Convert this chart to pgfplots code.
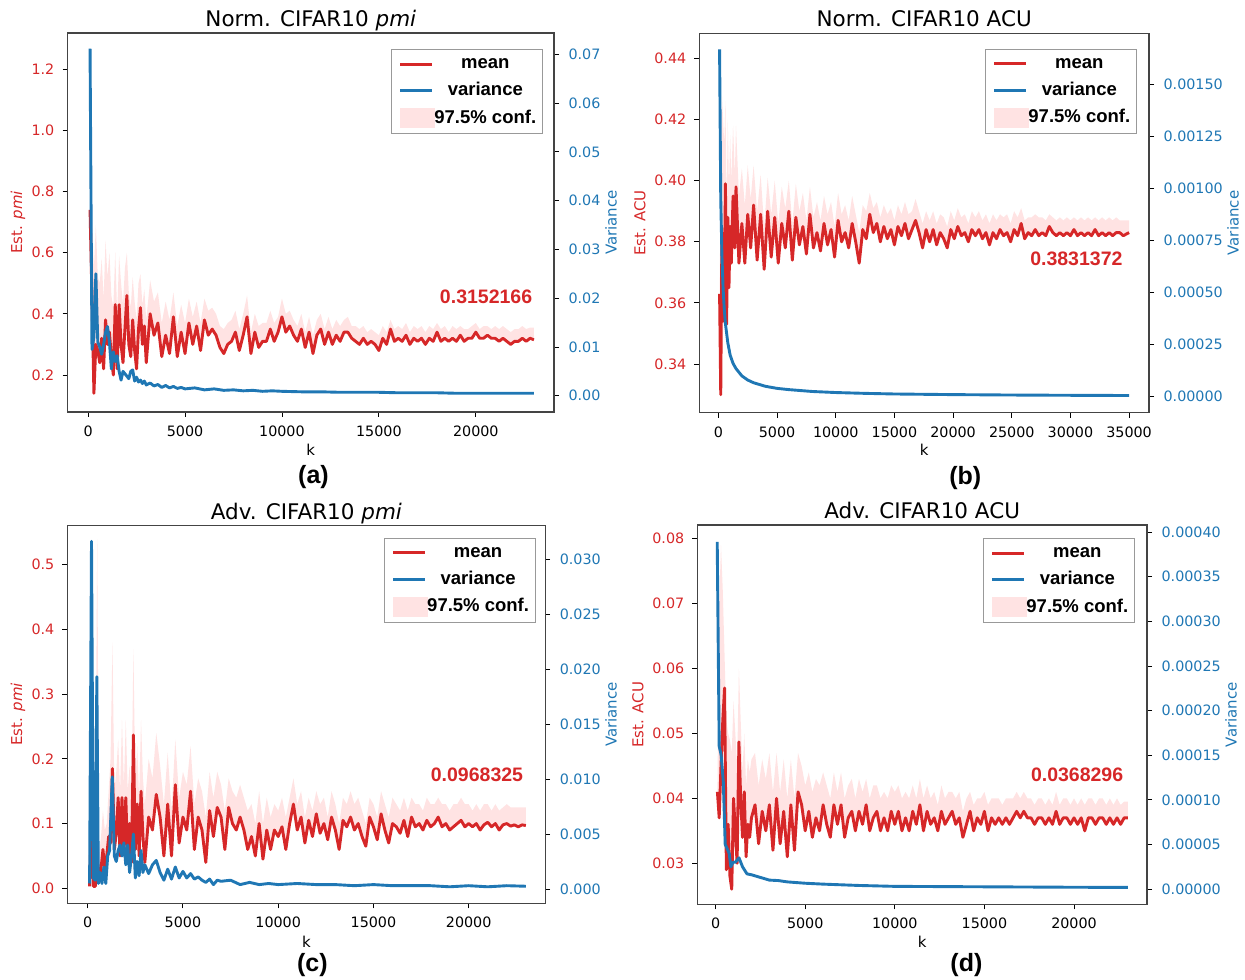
\documentclass[border=0pt]{standalone}
\usepackage{pgfplots}
\pgfplotsset{compat=1.18}
\usepackage{pgfplotstable}
\usepgfplotslibrary{fillbetween}
\usepackage{fontspec}
\setmainfont{DejaVu Sans}
\newfontfamily\arialf{Liberation Sans}
\definecolor{tred}{HTML}{D62728}
\definecolor{tblue}{HTML}{1F77B4}
\definecolor{band}{HTML}{FFE3E3}
\definecolor{frame}{HTML}{444444}
\newcommand\tickfont{\fontsize{14.3}{16}\selectfont}
\newcommand\labfont{\fontsize{15}{18}\selectfont}
\newcommand\titfont{\fontsize{21.5}{24}\selectfont}
\newcommand\legfont{\arialf\bfseries\fontsize{18.5}{20}\selectfont}
\newcommand\annfont{\arialf\bfseries\fontsize{19.5}{22}\selectfont}
\newcommand\subfont{\arialf\bfseries\fontsize{25}{28}\selectfont}

% ---------------- panel (a): Norm. CIFAR10 pmi ----------------
\pgfplotstableread{
k m u
100 0.74 0.74
200 0.45 0.70
300 0.14 0.55
400 0.30 0.69
500 0.28 0.52
600 0.24 0.50
700 0.32 0.58
800 0.22 0.45
900 0.38 0.64
1000 0.30 0.52
1100 0.34 0.60
1200 0.26 0.46
1300 0.20 0.42
1400 0.43 0.60
1500 0.22 0.40
1600 0.43 0.59
1700 0.30 0.50
1800 0.24 0.43
1900 0.35 0.55
2000 0.46 0.60
2100 0.30 0.47
2200 0.26 0.42
2300 0.38 0.52
2400 0.28 0.44
2500 0.22 0.38
2600 0.35 0.50
2700 0.42 0.53
2800 0.30 0.43
2900 0.36 0.48
3000 0.24 0.38
3200 0.40 0.51
3400 0.33 0.44
3600 0.37 0.47
3800 0.26 0.37
4000 0.33 0.44
4200 0.27 0.38
4400 0.39 0.47
4600 0.26 0.36
4800 0.34 0.43
5000 0.27 0.37
5200 0.37 0.45
5400 0.30 0.39
5600 0.36 0.44
5800 0.28 0.37
6000 0.38 0.45
6200 0.33 0.41
6400 0.35 0.42
6600 0.33 0.40
6800 0.29 0.36
7000 0.27 0.35
7200 0.30 0.37
7400 0.31 0.38
7600 0.34 0.41
7800 0.28 0.35
8000 0.33 0.40
8200 0.39 0.46
8400 0.27 0.34
8600 0.34 0.40
8800 0.29 0.36
9000 0.31 0.37
9200 0.31 0.37
9400 0.35 0.41
9600 0.31 0.37
9800 0.34 0.39
10000 0.39 0.45
10200 0.34 0.40
10400 0.36 0.41
10600 0.33 0.38
10800 0.31 0.36
11000 0.35 0.40
11200 0.29 0.34
11400 0.34 0.39
11600 0.27 0.33
11800 0.33 0.38
12000 0.35 0.40
12200 0.30 0.35
12400 0.34 0.39
12600 0.30 0.35
12800 0.33 0.38
13000 0.31 0.36
13200 0.34 0.38
13400 0.34 0.39
13600 0.32 0.36
13800 0.31 0.36
14000 0.30 0.35
14200 0.32 0.36
14400 0.30 0.34
14600 0.31 0.35
14800 0.30 0.34
15000 0.28 0.33
15200 0.32 0.36
15400 0.30 0.34
15600 0.35 0.38
15800 0.31 0.35
16000 0.32 0.36
16200 0.31 0.35
16400 0.33 0.37
16600 0.30 0.34
16800 0.32 0.36
17000 0.31 0.35
17200 0.32 0.36
17400 0.30 0.34
17600 0.32 0.36
17800 0.31 0.35
18000 0.34 0.37
18200 0.31 0.35
18400 0.32 0.36
18600 0.31 0.34
18800 0.32 0.36
19000 0.31 0.35
19200 0.33 0.36
19400 0.31 0.35
19600 0.32 0.35
19800 0.32 0.36
20000 0.34 0.37
20200 0.32 0.35
20400 0.32 0.36
20600 0.33 0.36
20800 0.32 0.35
21000 0.32 0.36
21200 0.31 0.35
21400 0.32 0.36
21600 0.31 0.35
21800 0.30 0.34
22000 0.31 0.35
22200 0.31 0.35
22400 0.32 0.36
22600 0.31 0.35
22800 0.32 0.355
23000 0.315 0.355
}\dA
\pgfplotstableread{
k v
100 0.0712
200 0.0095
300 0.0120
400 0.0250
500 0.0110
600 0.0100
700 0.0085
800 0.0105
900 0.0130
1000 0.0142
1100 0.0110
1200 0.0055
1300 0.0090
1400 0.0070
1500 0.0082
1600 0.0050
1700 0.0032
1800 0.0050
1900 0.0045
2000 0.0040
2100 0.0035
2200 0.0050
2300 0.0053
2400 0.0030
2500 0.0038
2600 0.0028
2700 0.0032
2800 0.0025
2900 0.0030
3000 0.0022
3200 0.0026
3400 0.0020
3600 0.0023
3800 0.0017
4000 0.0021
4200 0.0016
4400 0.0019
4600 0.0015
4800 0.0017
5000 0.0014
5500 0.0016
6000 0.0012
6500 0.0014
7000 0.0011
7500 0.0012
8000 0.0010
8500 0.0011
9000 0.0009
9500 0.0010
10000 0.0009
11000 0.0008
12000 0.0008
13000 0.0007
14000 0.0007
15000 0.0007
16000 0.0006
17000 0.0006
18000 0.0006
19000 0.0005
20000 0.0005
21000 0.0005
22000 0.0005
23000 0.0005
}\vA

% ---------------- panel (b): Norm. CIFAR10 ACU ----------------
\pgfplotstableread{
k m u
100 0.363 0.363
200 0.330 0.400
300 0.383 0.428
400 0.354 0.420
500 0.365 0.412
600 0.399 0.426
700 0.353 0.392
800 0.388 0.420
900 0.365 0.398
1000 0.385 0.415
1100 0.373 0.400
1250 0.395 0.418
1400 0.378 0.402
1500 0.398 0.418
1750 0.373 0.395
2000 0.386 0.404
2250 0.373 0.392
2500 0.389 0.405
2750 0.378 0.394
3000 0.392 0.405
3300 0.374 0.390
3600 0.389 0.402
3900 0.371 0.385
4200 0.390 0.401
4500 0.375 0.389
4800 0.388 0.400
5100 0.373 0.386
5400 0.386 0.398
5700 0.378 0.391
6000 0.390 0.400
6300 0.374 0.386
6600 0.388 0.399
6900 0.379 0.390
7200 0.385 0.396
7500 0.376 0.387
7800 0.389 0.398
8100 0.378 0.388
8400 0.383 0.393
8700 0.377 0.387
9000 0.386 0.395
9300 0.379 0.389
9600 0.384 0.393
9900 0.375 0.385
10200 0.387 0.396
10500 0.380 0.389
10800 0.383 0.392
11100 0.378 0.387
11400 0.386 0.395
11700 0.380 0.389
12000 0.373 0.383
12300 0.384 0.392
12600 0.381 0.390
12900 0.389 0.396
13200 0.383 0.391
13500 0.386 0.393
13800 0.380 0.388
14100 0.385 0.392
14400 0.381 0.389
14700 0.384 0.391
15000 0.379 0.387
15300 0.385 0.392
15600 0.382 0.389
15900 0.386 0.393
16200 0.381 0.389
16500 0.384 0.390
16800 0.387 0.394
17100 0.383 0.390
17400 0.378 0.386
17700 0.384 0.390
18000 0.380 0.387
18300 0.384 0.390
18600 0.379 0.386
18900 0.383 0.389
19200 0.381 0.388
19500 0.378 0.385
19800 0.384 0.390
20100 0.381 0.387
20400 0.385 0.391
20700 0.382 0.388
21000 0.383 0.389
21300 0.380 0.386
21600 0.384 0.390
21900 0.382 0.388
22200 0.384 0.390
22500 0.381 0.387
22800 0.383 0.389
23100 0.379 0.386
23400 0.383 0.389
23700 0.381 0.387
24000 0.384 0.389
24300 0.382 0.388
24600 0.383 0.389
24900 0.380 0.386
25200 0.384 0.390
25500 0.382 0.388
25800 0.386 0.391
26100 0.381 0.387
26400 0.383 0.388
26700 0.382 0.388
27000 0.384 0.389
27300 0.382 0.388
27600 0.383 0.388
27900 0.382 0.387
28200 0.385 0.389
28500 0.383 0.388
28800 0.382 0.387
29100 0.383 0.388
29400 0.382 0.387
29700 0.383 0.388
30000 0.382 0.387
30300 0.384 0.388
30600 0.382 0.387
30900 0.383 0.388
31200 0.382 0.387
31500 0.383 0.388
31800 0.382 0.387
32100 0.384 0.388
32400 0.382 0.387
32700 0.383 0.388
33000 0.382 0.387
33300 0.383 0.388
33600 0.382 0.387
33900 0.383 0.388
34200 0.383 0.387
34500 0.382 0.387
35000 0.383 0.387
}\dB
\pgfplotstableread{
k v
100 0.00167
200 0.00095
300 0.00068
400 0.00052
500 0.00042
600 0.00035
800 0.00026
1000 0.00020
1250 0.00016
1500 0.000135
2000 0.000100
2500 0.000080
3000 0.000067
4000 0.000050
5000 0.000040
6000 0.000034
8000 0.000025
10000 0.000020
12500 0.000016
15000 0.000013
20000 0.000010
25000 0.000008
30000 0.0000067
35000 0.0000057
}\vB

% ---------------- panel (c): Adv. CIFAR10 pmi ----------------
\pgfplotstableread{
k m u
100 0.003 0.003
200 0.112 0.20
300 0.003 0.15
400 0.003 0.10
500 0.050 0.54
600 0.010 0.05
700 0.030 0.08
800 0.060 0.12
900 0.030 0.09
1000 0.050 0.10
1100 0.080 0.15
1200 0.070 0.20
1300 0.185 0.38
1400 0.060 0.15
1500 0.085 0.18
1600 0.140 0.23
1700 0.050 0.15
1800 0.140 0.26
1900 0.060 0.16
2000 0.140 0.26
2100 0.050 0.15
2200 0.100 0.19
2300 0.040 0.14
2400 0.237 0.37
2500 0.060 0.16
2600 0.130 0.22
2700 0.050 0.14
2800 0.150 0.26
2900 0.080 0.17
3000 0.040 0.13
3200 0.110 0.20
3400 0.090 0.17
3600 0.145 0.24
3800 0.110 0.19
4000 0.050 0.13
4200 0.130 0.21
4400 0.050 0.12
4600 0.160 0.23
4800 0.070 0.14
5000 0.110 0.18
5200 0.090 0.16
5400 0.150 0.22
5600 0.060 0.13
5800 0.110 0.17
6000 0.090 0.15
6200 0.040 0.11
6400 0.120 0.18
6600 0.080 0.14
6800 0.125 0.18
7000 0.110 0.16
7200 0.060 0.12
7400 0.125 0.17
7600 0.100 0.15
7800 0.090 0.14
8000 0.110 0.16
8200 0.090 0.14
8400 0.060 0.12
8600 0.080 0.13
8800 0.050 0.10
9000 0.100 0.15
9200 0.045 0.10
9400 0.090 0.14
9600 0.060 0.11
9800 0.090 0.13
10000 0.080 0.12
10200 0.095 0.14
10400 0.060 0.11
10600 0.100 0.14
10800 0.130 0.17
11000 0.090 0.13
11200 0.110 0.15
11400 0.070 0.11
11600 0.105 0.14
11800 0.080 0.12
12000 0.115 0.15
12200 0.085 0.13
12400 0.100 0.14
12600 0.075 0.11
12800 0.110 0.15
13000 0.090 0.13
13200 0.060 0.10
13400 0.105 0.14
13600 0.095 0.13
13800 0.110 0.15
14000 0.090 0.13
14200 0.100 0.14
14400 0.080 0.12
14600 0.065 0.10
14800 0.110 0.14
15000 0.095 0.13
15200 0.075 0.11
15400 0.115 0.15
15600 0.090 0.13
15800 0.070 0.11
16000 0.100 0.14
16200 0.095 0.13
16400 0.085 0.12
16600 0.105 0.14
16800 0.080 0.12
17000 0.110 0.14
17200 0.095 0.13
17400 0.100 0.13
17600 0.090 0.12
17800 0.105 0.14
18000 0.095 0.13
18200 0.100 0.13
18400 0.110 0.14
18600 0.095 0.13
18800 0.100 0.13
19000 0.090 0.12
19200 0.095 0.13
19400 0.100 0.13
19600 0.105 0.14
19800 0.095 0.13
20000 0.100 0.13
20200 0.095 0.12
20400 0.100 0.13
20600 0.090 0.12
20800 0.098 0.13
21000 0.102 0.13
21200 0.095 0.12
21400 0.100 0.13
21600 0.090 0.12
21800 0.098 0.125
22000 0.100 0.13
22200 0.096 0.125
22400 0.098 0.125
22600 0.095 0.125
22800 0.098 0.125
23000 0.097 0.125
}\dC
\pgfplotstableread{
k v
100 0.0005
200 0.0316
300 0.0010
400 0.0008
480 0.0193
560 0.0005
650 0.0015
750 0.0005
850 0.0020
950 0.0005
1050 0.0030
1150 0.0035
1290 0.0102
1400 0.0030
1500 0.0025
1600 0.0035
1700 0.0040
1800 0.0030
1900 0.0042
2000 0.0022
2100 0.0040
2200 0.0015
2300 0.0030
2400 0.0050
2500 0.0010
2600 0.0025
2700 0.0012
2800 0.0035
2900 0.0015
3000 0.0022
3200 0.0014
3400 0.0022
3600 0.0026
3800 0.0015
4000 0.0008
4200 0.0018
4400 0.0009
4600 0.0020
4800 0.0010
5000 0.0016
5200 0.0010
5400 0.0014
5600 0.0009
5800 0.0011
6000 0.0008
6200 0.0006
6400 0.0009
6600 0.0004
6800 0.0008
7000 0.0007
7500 0.0008
8000 0.0004
8500 0.0006
9000 0.0004
9500 0.0005
10000 0.0004
11000 0.0005
12000 0.0004
13000 0.0004
14000 0.0003
15000 0.0004
16000 0.0003
17000 0.0003
18000 0.0003
19000 0.0002
20000 0.0003
21000 0.0002
22000 0.0003
23000 0.00025
}\vC

% ---------------- panel (d): Adv. CIFAR10 ACU ----------------
\pgfplotstableread{
k m u
100 0.041 0.041
200 0.037 0.070
300 0.045 0.079
400 0.052 0.072
500 0.057 0.062
600 0.029 0.052
700 0.036 0.050
800 0.028 0.049
900 0.026 0.047
1000 0.040 0.055
1100 0.035 0.050
1200 0.030 0.045
1300 0.0487 0.060
1400 0.040 0.052
1500 0.034 0.044
1600 0.041 0.050
1700 0.031 0.042
1800 0.036 0.046
1900 0.034 0.044
2000 0.037 0.046
2200 0.039 0.047
2400 0.033 0.042
2600 0.038 0.046
2800 0.035 0.043
3000 0.039 0.047
3200 0.032 0.041
3400 0.040 0.047
3600 0.033 0.041
3800 0.038 0.046
4000 0.031 0.040
4200 0.039 0.046
4400 0.032 0.040
4600 0.041 0.047
4800 0.039 0.045
5000 0.035 0.042
5200 0.038 0.044
5400 0.034 0.041
5600 0.037 0.043
5800 0.035 0.042
6000 0.039 0.044
6200 0.036 0.042
6400 0.034 0.040
6600 0.039 0.044
6800 0.036 0.041
7000 0.039 0.044
7200 0.034 0.040
7400 0.037 0.042
7600 0.038 0.043
7800 0.035 0.040
8000 0.038 0.043
8200 0.036 0.041
8400 0.039 0.043
8600 0.035 0.040
8800 0.037 0.042
9000 0.038 0.042
9200 0.035 0.040
9400 0.037 0.041
9600 0.035 0.040
9800 0.038 0.042
10000 0.036 0.041
10200 0.038 0.042
10400 0.035 0.040
10600 0.037 0.041
10800 0.035 0.040
11000 0.038 0.042
11200 0.036 0.040
11400 0.039 0.043
11600 0.035 0.040
11800 0.038 0.042
12000 0.036 0.040
12200 0.037 0.041
12400 0.035 0.039
12600 0.038 0.042
12800 0.036 0.040
13000 0.037 0.041
13200 0.038 0.041
13400 0.036 0.040
13600 0.037 0.041
13800 0.034 0.038
14000 0.036 0.040
14200 0.038 0.041
14400 0.035 0.039
14600 0.037 0.040
14800 0.036 0.040
15000 0.038 0.041
15200 0.035 0.039
15400 0.037 0.040
15600 0.036 0.040
15800 0.037 0.040
16000 0.036 0.039
16200 0.037 0.040
16400 0.036 0.040
16600 0.037 0.040
16800 0.038 0.041
17000 0.037 0.040
17200 0.038 0.041
17400 0.037 0.040
17600 0.037 0.040
17800 0.036 0.039
18000 0.037 0.040
18200 0.037 0.040
18400 0.036 0.039
18600 0.037 0.040
18800 0.036 0.039
19000 0.038 0.041
19200 0.036 0.039
19400 0.037 0.040
19600 0.037 0.040
19800 0.036 0.039
20000 0.037 0.040
20200 0.036 0.039
20400 0.037 0.040
20600 0.035 0.039
20800 0.037 0.040
21000 0.037 0.040
21200 0.036 0.039
21400 0.037 0.040
21600 0.037 0.040
21800 0.036 0.039
22000 0.037 0.040
22200 0.036 0.039
22400 0.037 0.040
22600 0.036 0.039
22800 0.037 0.0395
23000 0.037 0.0395
}\dD
\pgfplotstableread{
k v
90 0.000389
200 0.000160
310 0.000150
430 0.000120
535 0.000050
650 0.000045
755 0.000040
850 0.000025
976 0.000030
1100 0.000030
1306 0.000035
1500 0.000025
1750 0.000017
2000 0.000016
2500 0.000013
3000 0.000010
3500 0.0000095
4000 0.000008
5000 0.0000065
6000 0.0000055
8000 0.000004
10000 0.000003
15000 0.0000025
20000 0.000002
23000 0.0000018
}\vD

\pgfplotsset{
  twin/.style={scale only axis, anchor=south west, tick align=outside,
    major tick length=5pt,
    axis line style={frame, line width=1.1pt},
    tick style={black, line width=0.9pt},
    tick label style={font=\tickfont},
    scaled ticks=false,
    /pgf/number format/assume math mode=true,
    /pgf/number format/1000 sep={},
    xticklabel style={anchor=base, yshift=-19.5pt, inner sep=0pt,
      /pgf/number format/fixed, /pgf/number format/precision=0},
    clip=false},
  leftax/.style={ytick pos=left, xtick pos=bottom,
    yticklabel style={anchor=east, xshift=-8pt, inner sep=0pt, text=tred}},
  rightax/.style={xtick=\empty, ytick pos=right, yticklabel pos=right,
    yticklabel style={anchor=west, xshift=9.4pt, inner sep=0pt, text=tblue},
    legend image code/.code={\draw[##1] (0pt,0pt) -- (31.7pt,0pt);}},
  prec/.style={yticklabel style={/pgf/number format/fixed,
    /pgf/number format/fixed zerofill, /pgf/number format/precision=#1}},
  leg/.style={legend cell align=left, legend style={at={(#1)}, anchor=north east,
    draw=black!40, line width=1pt, fill=white, font=\legfont,
    inner xsep=7.5pt, inner ysep=5.5pt, row sep=9.1pt, column sep=0pt,
    nodes={inner sep=0pt, text height=13.5pt, text depth=4pt}}},
  meanline/.style={tred, line width=2.9pt, line join=round},
  varline/.style={tblue, line width=2.9pt, line join=round},
}
\newcommand\legendentries{%
  \addlegendimage{tred, line width=3pt}\addlegendentry{\makebox[100pt][c]{mean}}
  \addlegendimage{tblue, line width=3pt}\addlegendentry{\makebox[100pt][c]{variance}}
  \addlegendimage{legend image code/.code={\fill[band] (0pt,-9.3pt) rectangle (34.5pt,9.3pt);}}
  \addlegendentry{\makebox[100pt][c]{97.5\% conf.}}}

\begin{document}
\begin{tikzpicture}

% ===== (a) =====
\begin{axis}[twin, leftax, prec=1, at={(67.5pt,567pt)}, width=486.5pt, height=379pt,
  xmin=-1063, xmax=24034, ymin=0.079, ymax=1.318,
  xtick={0,5000,10000,15000,20000}, ytick={0.2,0.4,0.6,0.8,1.0,1.2}]
\addplot[name path=UA, draw=none, forget plot] table[x=k,y=u]{\dA};
\addplot[name path=MA, draw=none, forget plot] table[x=k,y=m]{\dA};
\addplot[band, forget plot] fill between[of=UA and MA];
\addplot[meanline, forget plot] table[x=k,y=m]{\dA};
\end{axis}
\begin{axis}[twin, rightax, prec=2, leg={0.978,0.957}, at={(67.5pt,567pt)}, width=486.5pt, height=379pt,
  xmin=-1063, xmax=24034, ymin=-0.00334, ymax=0.0744,
  ytick={0,0.01,0.02,0.03,0.04,0.05,0.06,0.07}]
\legendentries
\addplot[varline, forget plot] table[x=k,y=v]{\vA};
\end{axis}
\node[font=\titfont, anchor=base] at (310.8pt,952.3pt) {Norm. CIFAR10 \textit{pmi}};
\node[font=\labfont, anchor=base] at (310.8pt,523.5pt) {k};
\node[font=\subfont] at (313.5pt,502.3pt) {(a)};
\node[font=\labfont, text=tred, rotate=90] at (17.9pt,756.5pt) {Est. \textit{pmi}};
\node[font=\labfont, text=tblue, rotate=90] at (611pt,756.5pt) {Variance};
\node[font=\annfont, text=tred, anchor=east] at (535.7pt,682.3pt) {0.3152166};

% ===== (b) =====
\begin{axis}[twin, leftax, prec=2, at={(699.4pt,566.3pt)}, width=449.6pt, height=379.4pt,
  xmin=-1619, xmax=36696, ymin=0.3241, ymax=0.4482,
  xtick={0,5000,10000,15000,20000,25000,30000,35000}, ytick={0.34,0.36,0.38,0.40,0.42,0.44}]
\addplot[name path=UB, draw=none, forget plot] table[x=k,y=u]{\dB};
\addplot[name path=MB, draw=none, forget plot] table[x=k,y=m]{\dB};
\addplot[band, forget plot] fill between[of=UB and MB];
\addplot[meanline, forget plot] table[x=k,y=m]{\dB};
\end{axis}
\begin{axis}[twin, rightax, prec=5, leg={0.974,0.958}, at={(699.4pt,566.3pt)}, width=449.6pt, height=379.4pt,
  xmin=-1619, xmax=36696, ymin=-0.0000769, ymax=0.001747,
  ytick={0,0.00025,0.0005,0.00075,0.001,0.00125,0.0015}]
\legendentries
\addplot[varline, forget plot] table[x=k,y=v]{\vB};
\end{axis}
\node[font=\titfont, anchor=base] at (924.2pt,952.3pt) {Norm. CIFAR10 ACU};
\node[font=\labfont, anchor=base] at (924.2pt,523pt) {k};
\node[font=\subfont] at (965.2pt,501pt) {(b)};
\node[font=\labfont, text=tred, rotate=90] at (639.8pt,756pt) {Est. ACU};
\node[font=\labfont, text=tblue, rotate=90] at (1233pt,756pt) {Variance};
\node[font=\annfont, text=tred, anchor=east] at (1126pt,719.7pt) {0.3831372};

% ===== (c) =====
\begin{axis}[twin, leftax, prec=1, at={(67.5pt,75.7pt)}, width=477.7pt, height=377.6pt,
  xmin=-1060, xmax=24016, ymin=-0.0232, ymax=0.5603,
  xtick={0,5000,10000,15000,20000}, ytick={0,0.1,0.2,0.3,0.4,0.5}]
\addplot[name path=UC, draw=none, forget plot] table[x=k,y=u]{\dC};
\addplot[name path=MC, draw=none, forget plot] table[x=k,y=m]{\dC};
\addplot[band, forget plot] fill between[of=UC and MC];
\addplot[meanline, forget plot] table[x=k,y=m]{\dC};
\end{axis}
\begin{axis}[twin, rightax, prec=3, leg={0.981,0.967}, at={(67.5pt,75.7pt)}, width=477.7pt, height=377.6pt,
  xmin=-1060, xmax=24016, ymin=-0.0013, ymax=0.03303,
  ytick={0,0.005,0.01,0.015,0.02,0.025,0.03}]
\legendentries
\addplot[varline, forget plot] table[x=k,y=v]{\vC};
\end{axis}
\node[font=\titfont, anchor=base] at (306.4pt,459.7pt) {Adv. CIFAR10 \textit{pmi}};
\node[font=\labfont, anchor=base] at (306.4pt,31.7pt) {k};
\node[font=\subfont] at (312.3pt,14pt) {(c)};
\node[font=\labfont, text=tred, rotate=90] at (17.9pt,264.5pt) {Est. \textit{pmi}};
\node[font=\labfont, text=tblue, rotate=90] at (611pt,264.5pt) {Variance};
\node[font=\annfont, text=tred, anchor=east] at (526.6pt,204pt) {0.0968325};

% ===== (d) =====
\begin{axis}[twin, leftax, prec=2, at={(697.4pt,74.7pt)}, width=449.6pt, height=379.3pt,
  xmin=-1016, xmax=24074, ymin=0.02368, ymax=0.08211,
  xtick={0,5000,10000,15000,20000}, ytick={0.03,0.04,0.05,0.06,0.07,0.08}]
\addplot[name path=UD, draw=none, forget plot] table[x=k,y=u]{\dD};
\addplot[name path=MD, draw=none, forget plot] table[x=k,y=m]{\dD};
\addplot[band, forget plot] fill between[of=UD and MD];
\addplot[meanline, forget plot] table[x=k,y=m]{\dD};
\end{axis}
\begin{axis}[twin, rightax, prec=5, leg={0.974,0.965}, at={(697.4pt,74.7pt)}, width=449.6pt, height=379.3pt,
  xmin=-1016, xmax=24074, ymin=-0.0000171, ymax=0.000408,
  ytick={0,0.00005,0.0001,0.00015,0.0002,0.00025,0.0003,0.00035,0.0004}]
\legendentries
\addplot[varline, forget plot] table[x=k,y=v]{\vD};
\end{axis}
\node[font=\titfont, anchor=base] at (922.2pt,460pt) {Adv. CIFAR10 ACU};
\node[font=\labfont, anchor=base] at (922.2pt,31pt) {k};
\node[font=\subfont] at (966.4pt,14pt) {(d)};
\node[font=\labfont, text=tred, rotate=90] at (637.9pt,264.3pt) {Est. ACU};
\node[font=\labfont, text=tblue, rotate=90] at (1231pt,264.3pt) {Variance};
\node[font=\annfont, text=tred, anchor=east] at (1126.7pt,204pt) {0.0368296};

\path[use as bounding box] (0pt,0pt) rectangle (1245pt,979pt);
\end{tikzpicture}
\end{document}
